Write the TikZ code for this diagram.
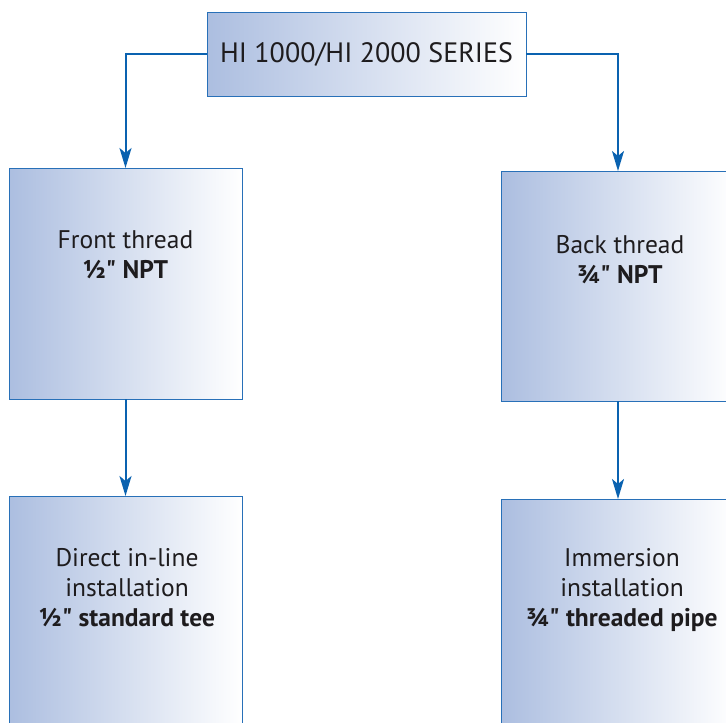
\documentclass[tikz,border=0pt]{standalone}
\usepackage{fontspec}
\newfontfamily\boxfont{PT Sans}
\usetikzlibrary{arrows.meta}
\usetikzlibrary{positioning}
\definecolor{edge}{RGB}{40,112,184}
\definecolor{wireblue}{RGB}{10,98,176}
\definecolor{shadeL}{RGB}{172,190,224}
\definecolor{ink}{RGB}{30,28,30}
\tikzstyle{box}=[draw=edge, line width=1pt, left color=shadeL, right color=white, inner sep=0pt, outer sep=0pt]
\tikzstyle{lbl}=[text=ink, align=center, font=\boxfont\fontsize{25.5}{30}\selectfont, inner sep=0pt, anchor=base]
\tikzstyle{link}=[wireblue, line width=2pt, -{Stealth[length=20pt,width=12pt,inset=5pt]}]
\newcommand*{\sizeline}[1]{{\bfseries\fontsize{25.5}{30}\selectfont #1}}

\begin{document}
\begin{tikzpicture}[x=1pt, y=-1pt]
    \path [use as bounding box] (0,0) rectangle (726,723);
    \clip (0,0) rectangle (726,723);
    % boxes
    \node [box, minimum width=319pt, minimum height=84pt, text=ink, font=\boxfont\fontsize{28}{32}\selectfont] (series) at (366.5,54) {HI 1000/HI 2000 SERIES};
    \node [box, minimum width=233pt, minimum height=231pt] (front) at (125.5,283.5) {};
    \node [box, minimum width=233pt, minimum height=230pt] (back) at (618,286) {};
    \node [box, minimum width=233pt, minimum height=231pt] (inline) at (125.5,611.5) {};
    \node [box, minimum width=233pt, minimum height=231pt] (immersion) at (618,614.5) {};
    % texts (placed at the baseline of the last line)
    \node [lbl] (front-txt) at (125.5,278) {Front thread\\\sizeline{½" NPT}};
    \node [lbl] (back-txt) at (620,283) {Back thread\\\sizeline{¾" NPT}};
    \node [lbl] (inline-txt) at (127,626) {Direct in-line\\installation\\\sizeline{½" standard tee}};
    \node [lbl] (immersion-txt) at (622,626) {Immersion\\installation\\\sizeline{¾" threaded pipe}};
    % connectors
    \draw [link] (series.west) -| (front.north);
    \draw [link] (series.east) -| (back.north);
    \draw [link] (front.south) -- (inline.north);
    \draw [link] (back.south) -- (immersion.north);
\end{tikzpicture}
\end{document}
